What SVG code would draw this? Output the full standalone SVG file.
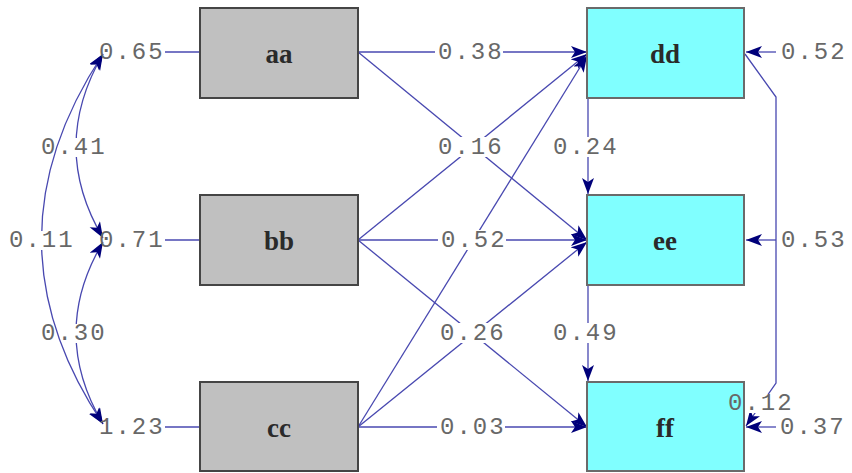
<svg xmlns="http://www.w3.org/2000/svg" width="852" height="473" viewBox="0 0 852 473">
<style>
.gbox{fill:#c0c0c0;stroke:#454545;stroke-width:2}
.cbox{fill:#80ffff;stroke:#6a6a6a;stroke-width:2}
.nl{font-family:"Liberation Serif",serif;font-size:27px;font-weight:bold;fill:#2a2a2a;text-anchor:middle}
.lb{font-family:"Liberation Mono",monospace;font-size:24px;letter-spacing:2px;fill:#686868}
.ln{fill:none;stroke:#4848b0;stroke-width:1.3}
.bg{fill:#ffffff}
</style>
<defs>
<marker id="ah" markerUnits="userSpaceOnUse" markerWidth="18" markerHeight="14" refX="16" refY="6" orient="auto-start-reverse">
<path d="M0,0 L16,6 L0,12 L4,6 z" fill="#00007a"/>
</marker>
</defs>
<rect width="852" height="473" fill="#ffffff"/>
<g id="connectors">
<path class="ln" d="M165,52 H200"/>
<path class="ln" d="M165,240 H200"/>
<path class="ln" d="M165,427 H200"/>
<path class="ln" d="M103,54 Q49,147 103,238" marker-start="url(#ah)" marker-end="url(#ah)"/>
<path class="ln" d="M103,242 Q49,333 103,424" marker-start="url(#ah)" marker-end="url(#ah)"/>
<rect class="bg" x="41" y="138" width="64" height="19"/>
<rect class="bg" x="41" y="324" width="64" height="19"/>
<path class="ln" d="M103,54 Q-20,240 103,424" marker-start="url(#ah)" marker-end="url(#ah)"/>
<rect class="bg" x="8" y="231" width="64" height="19"/>
<path class="ln" d="M358,52 L587,52" marker-end="url(#ah)"/>
<path class="ln" d="M358,52 L587,240" marker-end="url(#ah)"/>
<path class="ln" d="M358,240 L587,54" marker-end="url(#ah)"/>
<path class="ln" d="M358,240 L587,240" marker-end="url(#ah)"/>
<path class="ln" d="M358,240 L587,427" marker-end="url(#ah)"/>
<path class="ln" d="M358,427 L587,56" marker-end="url(#ah)"/>
<path class="ln" d="M358,427 L587,242" marker-end="url(#ah)"/>
<path class="ln" d="M358,427 L587,427" marker-end="url(#ah)"/>
<path class="ln" d="M588,99 L588,194" marker-end="url(#ah)"/>
<path class="ln" d="M588,286 L588,381" marker-end="url(#ah)"/>
<path class="ln" d="M776,52 L746,52" marker-end="url(#ah)"/>
<path class="ln" d="M776,240 L746,240" marker-end="url(#ah)"/>
<path class="ln" d="M776,427 L746,427" marker-end="url(#ah)"/>
<path class="ln" d="M745,54 L776,97 L776,383 L746,426" marker-end="url(#ah)"/>
<rect class="bg" x="435" y="42" width="68" height="20"/>
<rect class="bg" x="435" y="137" width="68" height="20"/>
<rect class="bg" x="438" y="230" width="68" height="20"/>
<rect class="bg" x="437" y="323" width="68" height="20"/>
<rect class="bg" x="437" y="417" width="68" height="20"/>
<rect class="bg" x="551" y="137" width="68" height="20"/>
<rect class="bg" x="551" y="323" width="68" height="20"/>
<rect class="bg" x="727" y="394" width="66" height="19"/>
</g>
<g id="aa"><rect class="gbox" x="200" y="8" width="158" height="90"/><text class="nl" x="279" y="63">aa</text></g>
<g id="bb"><rect class="gbox" x="200" y="195" width="158" height="90"/><text class="nl" x="279" y="250">bb</text></g>
<g id="cc"><rect class="gbox" x="200" y="382" width="158" height="89"/><text class="nl" x="279" y="437">cc</text></g>
<g id="dd"><rect class="cbox" x="587" y="8" width="157" height="90"/><text class="nl" x="665" y="63">dd</text></g>
<g id="ee"><rect class="cbox" x="587" y="195" width="157" height="90"/><text class="nl" x="665" y="250">ee</text></g>
<g id="ff"><rect class="cbox" x="587" y="382" width="157" height="89"/><text class="nl" x="665" y="437">ff</text></g>
<g id="labels">
<text class="lb" x="99" y="59">0.65</text>
<text class="lb" x="99" y="247">0.71</text>
<text class="lb" x="99" y="434">1.23</text>
<text class="lb" x="41" y="154">0.41</text>
<text class="lb" x="41" y="340">0.30</text>
<text class="lb" x="9" y="247">0.11</text>
<text class="lb" x="438" y="59">0.38</text>
<text class="lb" x="438" y="154">0.16</text>
<text class="lb" x="441" y="247">0.52</text>
<text class="lb" x="440" y="340">0.26</text>
<text class="lb" x="440" y="434">0.03</text>
<text class="lb" x="553" y="154">0.24</text>
<text class="lb" x="553" y="340">0.49</text>
<text class="lb" x="781" y="59">0.52</text>
<text class="lb" x="781" y="247">0.53</text>
<text class="lb" x="780" y="434">0.37</text>
<text class="lb" x="728" y="410">0.12</text>
</g>
</svg>
